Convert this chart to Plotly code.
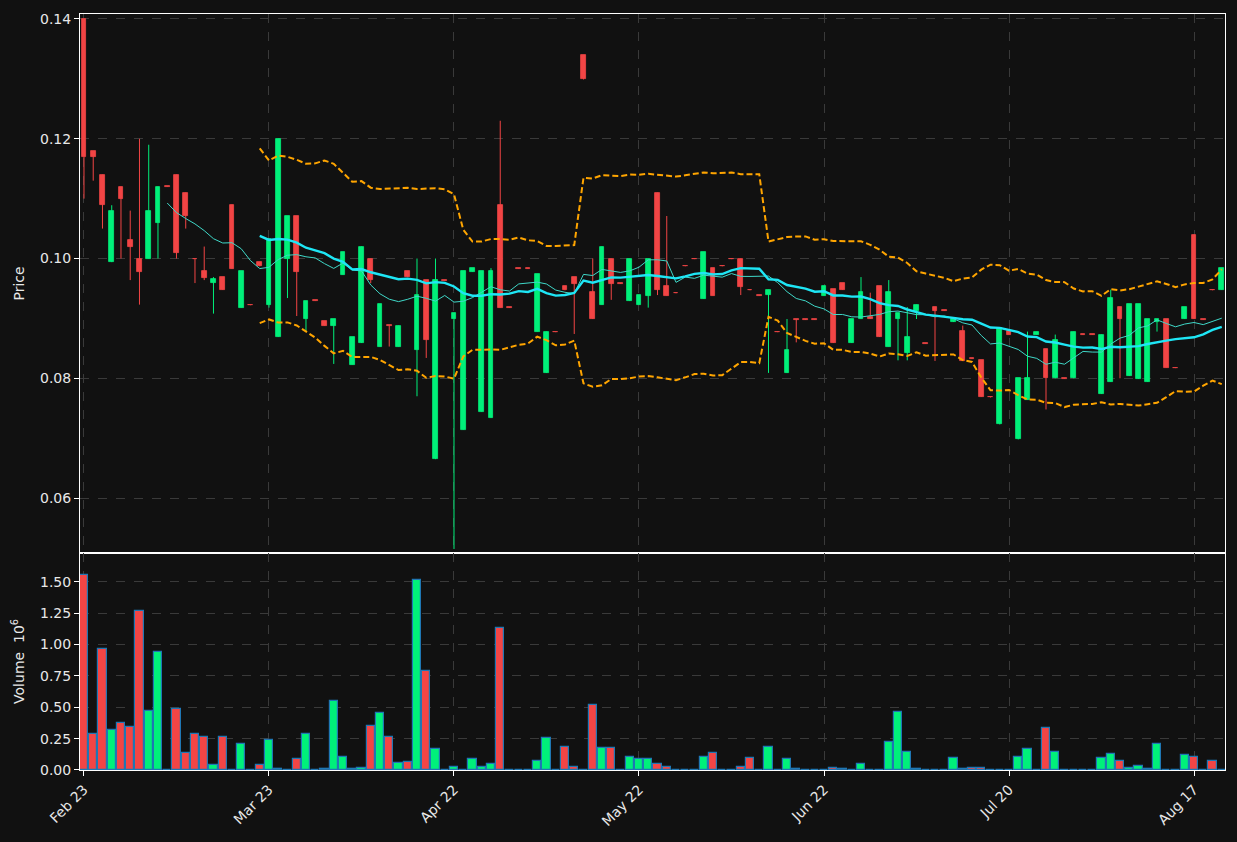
import pandas as pd
import plotly.graph_objects as go
from plotly.subplots import make_subplots

opens = [0.1400, 0.1179, 0.1140, 0.0994, 0.1120, 0.1031, 0.1000, 0.1000, 0.1060, 0.1121,
         0.1140, 0.1110, 0.1000, 0.0979, 0.0959, 0.0969, 0.1090, 0.0918, 0.0923, 0.0994,
         0.0923, 0.0869, 0.1000, 0.1071, 0.0899, 0.0930, 0.0895, 0.0888, 0.0973, 0.0823,
         0.0859, 0.1000, 0.0853, 0.0889, 0.0853, 0.0979, 0.0848, 0.0964, 0.0665, 0.0964,
         0.0899, 0.0714, 0.0978, 0.0744, 0.0734, 0.1090, 0.0919, 0.0984, 0.0984, 0.0878,
         0.0809, 0.0878, 0.0954, 0.0969, 0.1340, 0.0944, 0.0923, 0.1000, 0.0959, 0.0929,
         0.0923, 0.0938, 0.1110, 0.0954, 0.0943, 0.0988, 0.1000, 0.0933, 0.0984, 0.0988,
         0.1000, 0.1000, 0.0948, 0.0939, 0.0939, 0.0878, 0.0809, 0.0899, 0.0899, 0.0899,
         0.0938, 0.0949, 0.0959, 0.0859, 0.0899, 0.0903, 0.0954, 0.0853, 0.0899, 0.0843,
         0.0913, 0.0859, 0.0919, 0.0914, 0.0894, 0.0879, 0.0834, 0.0830, 0.0769, 0.0723,
         0.0879, 0.0698, 0.0764, 0.0873, 0.0849, 0.0800, 0.0800, 0.0800, 0.0874, 0.0874,
         0.0774, 0.0794, 0.0919, 0.0804, 0.0799, 0.0794, 0.0894, 0.0899, 0.0818, 0.0899,
         0.1040, 0.0899, 0.0948, 0.0948]
highs = [0.1400, 0.1179, 0.1140, 0.1089, 0.1120, 0.1080, 0.1200, 0.1190, 0.1120, 0.1121,
         0.1140, 0.1110, 0.1000, 0.1020, 0.0969, 0.0969, 0.1090, 0.0979, 0.0923, 0.0994,
         0.1032, 0.1200, 0.1071, 0.1071, 0.0929, 0.0930, 0.0895, 0.0899, 0.1011, 0.0869,
         0.1020, 0.1000, 0.0924, 0.0889, 0.0888, 0.0979, 0.1000, 0.0964, 0.1000, 0.0964,
         0.0909, 0.0979, 0.0984, 0.0979, 0.0984, 0.1230, 0.0919, 0.0984, 0.0984, 0.0974,
         0.0878, 0.0878, 0.0954, 0.0969, 0.1340, 0.1000, 0.1020, 0.1000, 0.0959, 0.1000,
         0.0939, 0.1000, 0.1110, 0.1071, 0.0943, 0.0988, 0.1000, 0.1011, 0.0984, 0.0988,
         0.1000, 0.1000, 0.0948, 0.0939, 0.0948, 0.0878, 0.0899, 0.0899, 0.0899, 0.0899,
         0.0954, 0.0949, 0.0959, 0.0899, 0.0969, 0.0943, 0.0954, 0.0964, 0.0909, 0.0919,
         0.0923, 0.0859, 0.0919, 0.0914, 0.0899, 0.0888, 0.0834, 0.0830, 0.0769, 0.0884,
         0.0879, 0.0800, 0.0878, 0.0878, 0.0849, 0.0873, 0.0800, 0.0878, 0.0874, 0.0874,
         0.0873, 0.0948, 0.0919, 0.0924, 0.0924, 0.0899, 0.0899, 0.0899, 0.0818, 0.0919,
         0.1040, 0.0899, 0.0948, 0.0984]
lows = [0.1100, 0.1130, 0.1050, 0.0994, 0.1000, 0.0964, 0.0923, 0.1000, 0.1000, 0.1120,
        0.1000, 0.1050, 0.0959, 0.0964, 0.0908, 0.0948, 0.0983, 0.0918, 0.0922, 0.0987,
        0.0918, 0.0869, 0.0934, 0.0904, 0.0878, 0.0929, 0.0888, 0.0824, 0.0973, 0.0823,
        0.0859, 0.0959, 0.0853, 0.0853, 0.0853, 0.0969, 0.0770, 0.0834, 0.0665, 0.0963,
        0.0515, 0.0714, 0.0978, 0.0744, 0.0734, 0.0918, 0.0918, 0.0983, 0.0983, 0.0878,
        0.0809, 0.0877, 0.0947, 0.0874, 0.1299, 0.0899, 0.0923, 0.0931, 0.0958, 0.0929,
        0.0923, 0.0918, 0.0939, 0.0938, 0.0942, 0.0987, 0.0999, 0.0933, 0.0938, 0.0987,
        0.0999, 0.0939, 0.0947, 0.0938, 0.0809, 0.0877, 0.0809, 0.0860, 0.0898, 0.0898,
        0.0938, 0.0859, 0.0948, 0.0859, 0.0899, 0.0899, 0.0869, 0.0853, 0.0830, 0.0830,
        0.0899, 0.0858, 0.0829, 0.0913, 0.0894, 0.0829, 0.0833, 0.0769, 0.0768, 0.0723,
        0.0873, 0.0698, 0.0764, 0.0873, 0.0748, 0.0800, 0.0799, 0.0800, 0.0873, 0.0873,
        0.0774, 0.0794, 0.0800, 0.0804, 0.0799, 0.0794, 0.0878, 0.0818, 0.0817, 0.0899,
        0.0899, 0.0898, 0.0947, 0.0948]
closes = [0.1170, 0.1170, 0.1089, 0.1080, 0.1100, 0.1020, 0.0978, 0.1080, 0.1120, 0.1120,
          0.1010, 0.1071, 0.0999, 0.0968, 0.0965, 0.0948, 0.0983, 0.0979, 0.0922, 0.0987,
          0.1032, 0.1200, 0.1071, 0.0978, 0.0929, 0.0929, 0.0888, 0.0899, 0.1011, 0.0869,
          0.1020, 0.0964, 0.0924, 0.0888, 0.0888, 0.0969, 0.0939, 0.0864, 0.0964, 0.0963,
          0.0909, 0.0979, 0.0984, 0.0979, 0.0979, 0.0918, 0.0918, 0.0983, 0.0983, 0.0974,
          0.0878, 0.0877, 0.0947, 0.0958, 0.1299, 0.0899, 0.1020, 0.0958, 0.0958, 0.1000,
          0.0939, 0.1000, 0.0948, 0.0938, 0.0942, 0.0987, 0.0999, 0.1011, 0.0938, 0.0987,
          0.0999, 0.0953, 0.0947, 0.0938, 0.0948, 0.0877, 0.0848, 0.0898, 0.0898, 0.0898,
          0.0954, 0.0859, 0.0948, 0.0899, 0.0944, 0.0899, 0.0869, 0.0944, 0.0909, 0.0869,
          0.0923, 0.0858, 0.0913, 0.0913, 0.0899, 0.0829, 0.0833, 0.0769, 0.0768, 0.0884,
          0.0873, 0.0800, 0.0800, 0.0878, 0.0800, 0.0864, 0.0799, 0.0878, 0.0873, 0.0873,
          0.0873, 0.0934, 0.0899, 0.0924, 0.0924, 0.0899, 0.0899, 0.0818, 0.0817, 0.0919,
          0.0899, 0.0898, 0.0947, 0.0984]
volumes_m = [1.558, 0.286, 0.966, 0.317, 0.379, 0.340, 1.264, 0.468, 0.939, 0.005,
             0.491, 0.135, 0.286, 0.263, 0.040, 0.263, 0.005, 0.209, 0.0, 0.040,
             0.240, 0.008, 0.005, 0.085, 0.290, 0.0, 0.008, 0.553, 0.108, 0.010,
             0.015, 0.348, 0.452, 0.267, 0.058, 0.066, 1.511, 0.789, 0.170, 0.0,
             0.027, 0.005, 0.089, 0.027, 0.046, 1.129, 0.0, 0.0, 0.0, 0.070,
             0.259, 0.0, 0.182, 0.027, 0.003, 0.520, 0.178, 0.178, 0.0, 0.104,
             0.089, 0.089, 0.046, 0.023, 0.0, 0.0, 0.0, 0.108, 0.139, 0.005,
             0.005, 0.023, 0.093, 0.0, 0.182, 0.0, 0.085, 0.012, 0.0, 0.0,
             0.005, 0.019, 0.008, 0.005, 0.046, 0.005, 0.005, 0.224, 0.464, 0.147,
             0.012, 0.0, 0.005, 0.0, 0.097, 0.012, 0.020, 0.020, 0.0, 0.005,
             0.0, 0.104, 0.170, 0.0, 0.332, 0.147, 0.005, 0.005, 0.005, 0.0,
             0.097, 0.131, 0.070, 0.019, 0.035, 0.012, 0.205, 0.0, 0.0, 0.124,
             0.104, 0.0, 0.070, 0.0]
tick_index = [0, 20, 40, 60, 80, 100, 120]
tick_labels = ["Feb 23", "Mar 23", "Apr 22", "May 22", "Jun 22", "Jul 20", "Aug 17"]

UP = "#00f07a"
DOWN = "#f24545"
BG = "#111111"
GRID = "#3a3a3a"

n = len(closes)
x = list(range(n))
s = pd.Series(closes)
ma10 = s.rolling(10).mean()
ma20 = s.rolling(20).mean()
sd20 = s.rolling(20).std(ddof=0)
upper = ma20 + 2 * sd20
lower = ma20 - 2 * sd20

colors = [UP if c >= o else DOWN for o, c in zip(opens, closes)]
body_base = [min(o, c) for o, c in zip(opens, closes)]
body_len = [abs(c - o) for o, c in zip(opens, closes)]

fig = make_subplots(rows=2, cols=1, shared_xaxes=True, vertical_spacing=0,
                    row_heights=[0.7128, 0.2872])

# candle bodies
fig.add_trace(go.Bar(x=x, y=body_len, base=body_base, width=0.5,
                     marker=dict(color=colors, line=dict(color=colors, width=0.8)),
                     showlegend=False, hoverinfo="skip"), row=1, col=1)

# wicks (one trace per colour)
for col in (UP, DOWN):
    wx, wy = [], []
    for i in range(n):
        if colors[i] == col:
            wx += [x[i], x[i], None]
            wy += [lows[i], highs[i], None]
    fig.add_trace(go.Scatter(x=wx, y=wy, mode="lines",
                             line=dict(color=col, width=1),
                             showlegend=False, hoverinfo="skip"), row=1, col=1)

fig.add_trace(go.Scatter(x=x, y=upper, mode="lines",
                         line=dict(color="#ffa500", width=2, dash="6px,3px"),
                         showlegend=False), row=1, col=1)
fig.add_trace(go.Scatter(x=x, y=lower, mode="lines",
                         line=dict(color="#ffa500", width=2, dash="6px,3px"),
                         showlegend=False), row=1, col=1)
fig.add_trace(go.Scatter(x=x, y=ma10, mode="lines",
                         line=dict(color="#3fd8c8", width=1),
                         showlegend=False), row=1, col=1)
fig.add_trace(go.Scatter(x=x, y=ma20, mode="lines",
                         line=dict(color="#1ee6f5", width=2.4),
                         showlegend=False), row=1, col=1)

fig.add_trace(go.Bar(x=x, y=volumes_m, width=0.9,
                     marker=dict(color=colors, line=dict(color="#1f77b4", width=1.2)),
                     showlegend=False), row=2, col=1)

font = dict(family="DejaVu Sans", size=14, color="#e8e8e8")
axis_common = dict(showline=True, linecolor="white", linewidth=1, mirror=True,
                   showgrid=True, gridcolor=GRID, griddash="dash", gridwidth=1,
                   zeroline=False)

fig.update_layout(
    width=1237, height=842,
    margin=dict(l=80, r=11, t=11, b=72),
    paper_bgcolor=BG, plot_bgcolor=BG,
    font=font, showlegend=False, bargap=0, barmode="overlay",
    xaxis=dict(**axis_common, range=[-0.43, 123.35], tickvals=tick_index,
               ticktext=tick_labels, showticklabels=False, ticks=""),
    xaxis2=dict(**axis_common, range=[-0.43, 123.35], tickvals=tick_index,
                ticktext=tick_labels, tickangle=-45, ticks="outside",
                ticklen=5, tickcolor="white", tickfont=font),
    yaxis=dict(**axis_common, range=[0.05085, 0.14083], tickvals=[0.06, 0.08, 0.10, 0.12, 0.14],
               tickformat=".2f", ticks="outside", ticklen=5, tickcolor="white",
               title=dict(text="Price", font=font, standoff=12), tickfont=font),
    yaxis2=dict(**axis_common, range=[0, 1.73], tickvals=[0, 0.25, 0.5, 0.75, 1.0, 1.25, 1.5],
                tickformat=".2f", ticks="outside", ticklen=5, tickcolor="white",
                title=dict(text="Volume  10<sup>6</sup>", font=font, standoff=12), tickfont=font),
)

fig.write_html("out.html", config={"displayModeBar": False},
               post_script="document.body.style.margin='0';document.body.style.background='#111111';")
